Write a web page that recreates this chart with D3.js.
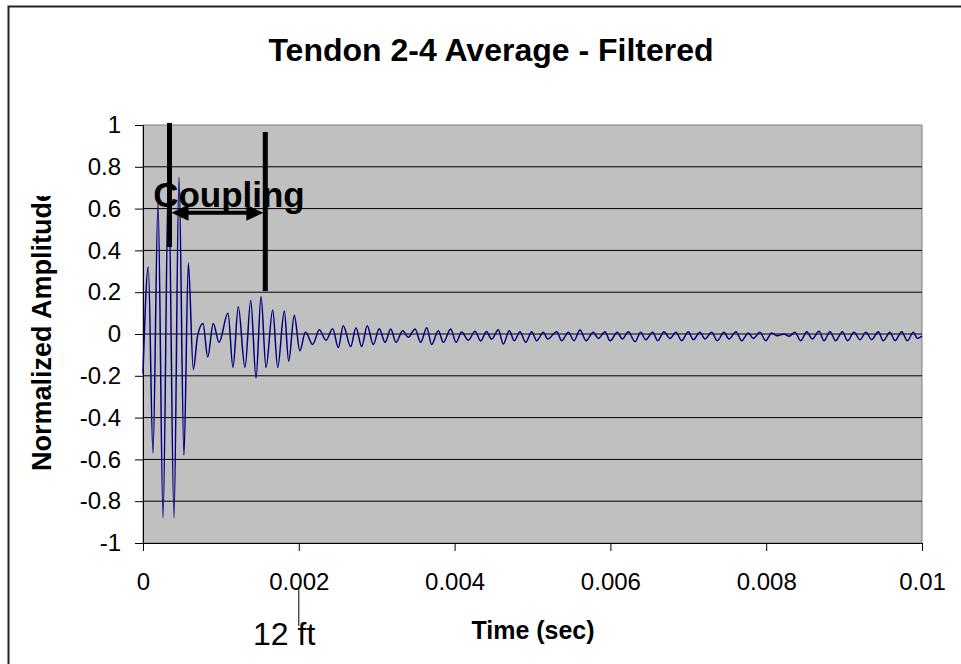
<!DOCTYPE html>
<html>
<head>
<meta charset="utf-8">
<script src="https://cdn.jsdelivr.net/npm/d3@7"></script>
<style>
  body { margin: 0; background: #fff; }
  svg { display: block; font-family: "Liberation Sans", Arial, sans-serif; }
</style>
</head>
<body>
<div id="drawArea"></div>
<script>
// Zeit (s) und normierte Amplitude, Extremwerte
var timeSec = [
  0.000000, 0.000068, 0.000128, 0.000193, 0.000257, 0.000327, 0.000398, 0.000462, 0.000526, 0.000582,
  0.000646, 0.000700, 0.000770, 0.000831, 0.000902, 0.000976, 0.001091, 0.001155, 0.001223, 0.001309,
  0.001383, 0.001451, 0.001515, 0.001579, 0.001665, 0.001729, 0.001814, 0.001870, 0.001942, 0.002013,
  0.002086, 0.002178, 0.002263, 0.002349, 0.002435, 0.002507, 0.002571, 0.002666, 0.002734, 0.002807,
  0.002879, 0.002956, 0.003033, 0.003107, 0.003180, 0.003248, 0.003334, 0.003406, 0.003492, 0.003565,
  0.003642, 0.003706, 0.003791, 0.003855, 0.003950, 0.004018, 0.004091, 0.004176, 0.004262, 0.004335,
  0.004409, 0.004476, 0.004561, 0.004625, 0.004702, 0.004766, 0.004839, 0.004913, 0.004990, 0.005054,
  0.005139, 0.005195, 0.005311, 0.005375, 0.005460, 0.005533, 0.005610, 0.005687, 0.005780, 0.005845,
  0.005931, 0.005995, 0.006089, 0.006153, 0.006230, 0.006316, 0.006389, 0.006453, 0.006543, 0.006607,
  0.006688, 0.006765, 0.006842, 0.006915, 0.007000, 0.007064, 0.007150, 0.007214, 0.007300, 0.007372,
  0.007458, 0.007522, 0.007612, 0.007685, 0.007770, 0.007834, 0.007920, 0.007993, 0.008070, 0.008142,
  0.008228, 0.008296, 0.008369, 0.008443, 0.008520, 0.008592, 0.008678, 0.008742, 0.008819, 0.008892,
  0.008977, 0.009046, 0.009127, 0.009204, 0.009281, 0.009354, 0.009439, 0.009503, 0.009589, 0.009654,
  0.009740, 0.009812, 0.009889, 0.009940, 0.010000
];
var amplitude = [
  -0.19, 0.32, -0.57, 0.63, -0.88, 0.77, -0.88, 0.75, -0.58, 0.34,
  -0.17, -0.01, 0.05, -0.11, 0.05, -0.04, 0.10, -0.16, 0.13, -0.16,
  0.16, -0.21, 0.18, -0.16, 0.115, -0.16, 0.11, -0.13, 0.09, -0.08,
  0.01, -0.05, 0.02, -0.03, 0.025, -0.065, 0.04, -0.06, 0.03, -0.06,
  0.04, -0.05, 0.025, -0.04, 0.024, -0.04, 0.016, -0.016, 0.024, -0.04,
  0.03, -0.05, 0.016, -0.04, 0.024, -0.04, 0.01, -0.03, 0.013, -0.033,
  0.012, -0.025, 0.02, -0.048, 0.016, -0.032, 0.011, -0.04, 0.011, -0.032,
  0.008, -0.024, 0.011, -0.032, 0.008, -0.032, 0.019, -0.032, 0.008, -0.021,
  0.011, -0.032, 0.008, -0.024, 0.011, -0.037, 0.008, -0.027, 0.008, -0.032,
  0.011, -0.021, 0.008, -0.032, 0.011, -0.027, 0.008, -0.024, 0.008, -0.032,
  0.008, -0.024, 0.011, -0.032, 0.005, -0.021, 0.008, -0.032, 0.005, -0.008,
  0.0, -0.011, 0.008, -0.032, 0.011, -0.024, 0.013, -0.032, 0.011, -0.032,
  0.011, -0.032, 0.008, -0.027, 0.008, -0.027, 0.011, -0.032, 0.008, -0.032,
  0.011, -0.032, 0.008, -0.021, -0.01
];
var xTicks = [0, 0.002, 0.004, 0.006, 0.008, 0.01];
var yTicks = [-1, -0.8, -0.6, -0.4, -0.2, 0, 0.2, 0.4, 0.6, 0.8, 1];

// Markierungen: Kopplungsbereich und 12 ft
var couplingStart = 0.00034, couplingEnd = 0.00157;
var marker12ft = 0.00200;

var W = 961, H = 664;
var margin = {top: 125, right: 39, bottom: 121, left: 143};
var width = W - margin.left - margin.right,
    height = H - margin.top - margin.bottom;

var svg = d3.select("#drawArea").append("svg")
  .attr("width", W).attr("height", H);

// Rahmen des Diagramms (nur links und oben sichtbar)
svg.append("path")
  .attr("d", "M8.5,664 V6.5 H961")
  .attr("fill", "none").attr("stroke", "#222").attr("stroke-width", 2);

svg.append("text")
  .attr("x", 491).attr("y", 61)
  .attr("text-anchor", "middle")
  .style("font-size", "32px").style("font-weight", "bold")
  .text("Tendon 2-4 Average - Filtered");

var g = svg.append("g")
  .attr("transform", "translate(" + margin.left + "," + margin.top + ")");

var x = d3.scaleLinear().domain([0, 0.01]).range([0, width]);
var y = d3.scaleLinear().domain([-1, 1]).range([height, 0]);

g.append("rect")
  .attr("width", width).attr("height", height)
  .attr("fill", "#c0c0c0").attr("stroke", "#808080");

// Gitterlinien
g.selectAll(".grid").data(yTicks.filter(function(d){ return d > -1 && d < 1; }))
  .enter().append("line")
  .attr("x1", 0).attr("x2", width)
  .attr("y1", function(d){ return y(d); }).attr("y2", function(d){ return y(d); })
  .attr("stroke", "#000").attr("stroke-width", 1);

var yAxis = g.append("g")
  .call(d3.axisLeft(y).tickValues(yTicks).tickSize(8).tickPadding(14)
    .tickFormat(function(d){ return String(d); }));
var xAxis = g.append("g")
  .attr("transform", "translate(0," + height + ")")
  .call(d3.axisBottom(x).tickValues(xTicks).tickSize(8).tickPadding(22)
    .tickFormat(function(d){ return String(d); }));

[yAxis, xAxis].forEach(function(a){
  a.select(".domain").attr("stroke", "#000");
  a.selectAll(".tick line").attr("stroke", "#000");
  a.selectAll("text").attr("fill", "#000")
    .style("font-size", "24px").style("font-family", "'Liberation Sans', Arial, sans-serif");
});

var data = timeSec.map(function(t, i){ return {x: t, y: amplitude[i]}; });

g.append("path")
  .datum(data)
  .attr("fill", "none")
  .attr("stroke", "#000080")
  .attr("stroke-width", 1.5)
  .attr("d", d3.line()
    .x(function(d){ return x(d.x); })
    .y(function(d){ return y(d.y); })
    .curve(d3.curveMonotoneX));

// Achsentitel (oben abgeschnitten wie im Original)
svg.append("clipPath").attr("id", "yclip")
  .append("rect").attr("x", 0).attr("y", 196).attr("width", 100).attr("height", 400);
svg.append("g")
  .attr("clip-path", "url(#yclip)")
  .append("text")
  .attr("transform", "translate(51,329) rotate(-90)")
  .attr("text-anchor", "middle")
  .style("font-size", "27px").style("font-weight", "bold")
  .text("Normalized Amplitude");

svg.append("text")
  .attr("x", 533).attr("y", 639)
  .attr("text-anchor", "middle")
  .style("font-size", "25px").style("font-weight", "bold")
  .text("Time (sec)");

// Annotation Coupling
var ann = g.append("g");
ann.append("line")
  .attr("x1", x(couplingStart)).attr("x2", x(couplingStart))
  .attr("y1", y(1.01)).attr("y2", y(0.416))
  .attr("stroke", "#000").attr("stroke-width", 5);
ann.append("line")
  .attr("x1", x(couplingEnd)).attr("x2", x(couplingEnd))
  .attr("y1", y(0.966)).attr("y2", y(0.206))
  .attr("stroke", "#000").attr("stroke-width", 5);

var ay = y(0.58);
var ax1 = x(couplingStart) + 2, ax2 = x(couplingEnd) - 2;
ann.append("line")
  .attr("x1", ax1 + 12).attr("x2", ax2 - 12)
  .attr("y1", ay).attr("y2", ay)
  .attr("stroke", "#000").attr("stroke-width", 4);
ann.append("path")
  .attr("d", "M" + ax1 + "," + ay + " L" + (ax1 + 17) + "," + (ay - 8) + " L" + (ax1 + 17) + "," + (ay + 8) + "Z")
  .attr("fill", "#000");
ann.append("path")
  .attr("d", "M" + ax2 + "," + ay + " L" + (ax2 - 17) + "," + (ay - 8) + " L" + (ax2 - 17) + "," + (ay + 8) + "Z")
  .attr("fill", "#000");
ann.append("text")
  .attr("x", x(0.00013)).attr("y", y(0.61))
  .style("font-size", "35px").style("font-weight", "bold")
  .text("Coupling");

// 12 ft Markierung
svg.append("line")
  .attr("x1", margin.left + x(marker12ft)).attr("x2", margin.left + x(marker12ft))
  .attr("y1", 589).attr("y2", 626)
  .attr("stroke", "#000").attr("stroke-width", 1);
svg.append("text")
  .attr("x", 253).attr("y", 645)
  .style("font-size", "32px")
  .text("12 ft");
</script>
</body>
</html>
